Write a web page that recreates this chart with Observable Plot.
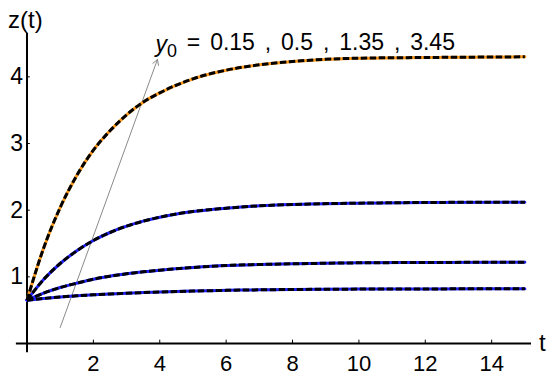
<!DOCTYPE html>
<html><head><meta charset="utf-8">
<script src="https://cdn.jsdelivr.net/npm/d3@7"></script>
<script src="https://cdn.jsdelivr.net/npm/@observablehq/plot@0.6"></script>
<style>body{margin:0;background:#fff}</style>
</head><body><div id="chart"></div>
<script>
const tValues = [0, 0.5, 1, 1.5, 2, 2.5, 3, 3.5, 4, 5, 6, 7, 8, 10, 12, 15];
const zY345 = [0.65, 1.43, 2.04, 2.52, 2.90, 3.19, 3.43, 3.62, 3.76, 3.97, 4.10, 4.18, 4.23, 4.28, 4.29, 4.30];
const zY135 = [0.65, 0.96, 1.20, 1.39, 1.545, 1.665, 1.76, 1.835, 1.895, 1.98, 2.03, 2.065, 2.085, 2.105, 2.115, 2.12];
const zY05  = [0.65, 0.755, 0.84, 0.905, 0.965, 1.01, 1.045, 1.075, 1.10, 1.14, 1.17, 1.185, 1.195, 1.21, 1.215, 1.22];
const zY015 = [0.65, 0.675, 0.697, 0.715, 0.73, 0.743, 0.754, 0.764, 0.772, 0.786, 0.797, 0.805, 0.81, 0.816, 0.819, 0.82];
const seriesNames = ["3.45", "1.35", "0.5", "0.15"];
const seriesColors = ["#ff9a1a", "#2020ff", "#2020ff", "#2020ff"];
const xTicks = [2, 4, 6, 8, 10, 12, 14];
const yTicks = [1, 2, 3, 4];
const arrowSpec = [{x1: 1.0, y1: 0.24, x2: 3.93, y2: 4.26}];

const rows = [];
[zY345, zY135, zY05, zY015].forEach((arr, i) =>
  arr.forEach((z, j) => rows.push({t: tValues[j], z, s: seriesNames[i]})));

const plot = Plot.plot({
  width: 550, height: 376,
  marginLeft: 26.5, marginRight: 19, marginTop: 33, marginBottom: 33,
  x: {domain: [0, 15.2], axis: null},
  y: {domain: [0, 4.65], axis: null},
  color: {domain: seriesNames, range: seriesColors},
  style: {fontFamily: "'Liberation Sans', Arial, sans-serif", background: "#fff", color: "#000"},
  marks: [
    Plot.ruleY([0], {x1: -0.32, x2: 15.2, stroke: "#000", strokeWidth: 2}),
    Plot.ruleX([0], {y1: -0.14, y2: 4.65, stroke: "#000", strokeWidth: 2}),
    Plot.ruleX(xTicks, {x: d => d, y1: 0, y2: 0.05, stroke: "#000", strokeWidth: 1}),
    Plot.ruleY(yTicks, {y: d => d, x1: 0, x2: 0.1, stroke: "#000", strokeWidth: 1}),
    Plot.text(xTicks, {x: d => d, y: 0, dy: 20, text: d => String(d), fontSize: 22, fill: "#000"}),
    Plot.text(yTicks, {x: 0, y: d => d, dx: -4, text: d => String(d), textAnchor: "end", fontSize: 23, fill: "#000"}),
    Plot.arrow(arrowSpec, {x1: "x1", y1: "y1", x2: "x2", y2: "y2", stroke: "#8a8a8a", strokeWidth: 1, headLength: 9}),
    Plot.line(rows, {x: "t", y: "z", z: "s", stroke: "s", strokeWidth: 3, curve: "monotone-x"}),
    Plot.line(rows, {x: "t", y: "z", z: "s", stroke: "#000", strokeWidth: 3, strokeDasharray: "6.5,2.5", strokeLinecap: "butt", curve: "monotone-x"}),
    Plot.text(["z(t)"], {x: -0.05, y: 4.845, text: d => d, fontSize: 24, fill: "#000"}),
    Plot.text(["t"], {x: 15.53, y: 0, text: d => d, fontSize: 24, fill: "#000"}),
    Plot.text(["y0 = 0.15 , 0.5 , 1.35 , 3.45"], {x: 3.87, y: 4.485, text: d => d, textAnchor: "start", fontSize: 23, fill: "#000", className: "anno"})
  ]
});
document.getElementById("chart").appendChild(plot);

// subscript / italic formatting for the annotation
const t = d3.select(plot).select("g.anno text");
const full = t.text();
t.text("").attr("word-spacing", "3.5px");
t.append("tspan").attr("font-style", "italic").text("y");
t.append("tspan").attr("dy", "0.3em").attr("font-size", "0.78em").text("0");
t.append("tspan").attr("dy", "-0.3em").text(full.slice(2));
</script>
</body></html>
